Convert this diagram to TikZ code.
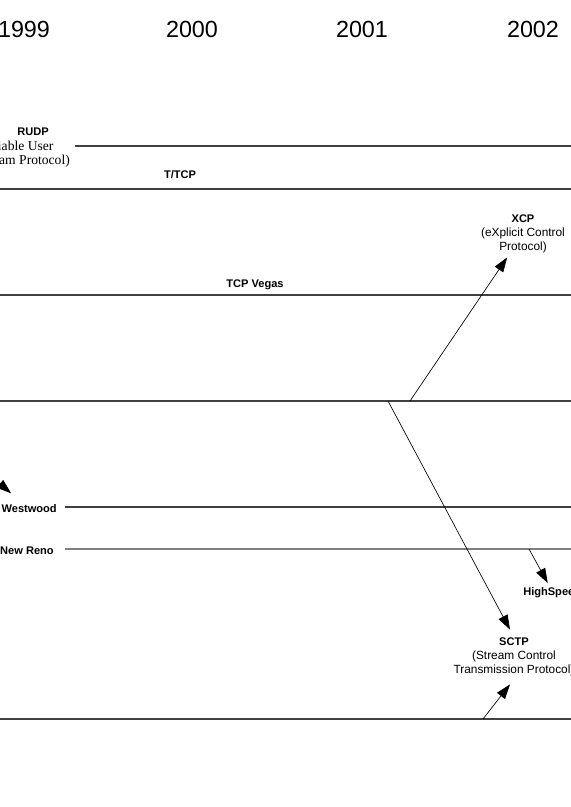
\documentclass[tikz,border=0pt]{standalone}
\usepackage{fontspec}
\setmainfont{Liberation Serif}
\setsansfont{Liberation Sans}
\usetikzlibrary{arrows.meta}

\begin{document}
\begin{tikzpicture}[
    x = 0.75pt, y = -0.75pt,
    every node/.style = {inner sep = 3pt, font = \sffamily\bfseries\fontsize{8.3}{10.5}\selectfont},
    year/.style = {font = \sffamily\fontsize{17.5}{20}\selectfont},
    proto/.style = {align = center},
    track/.style = {draw = black!75, line width = 1pt},
    evolve/.style = {draw = black, line width = 0.5pt, -{Triangle[length = 11pt, width = 7.5pt]}}
  ]
  \useasboundingbox (0,0) rectangle (571,807);
  \clip (0,0) rectangle (571,807);

  % years
  \foreach \yr/\xx in {1999/24, 2000/192, 2001/362, 2002/533}
    \node[year] (y\yr) at (\xx,29) {\yr};

  % protocols
  \node (RUDP) at (33,132) {RUDP};
  \node[proto, font = \rmfamily\fontsize{10.2}{10.8}\selectfont]
    (RUDPnote) at (16,154.5) {(Reliable User\hspace*{3pt}\\Datagram Protocol)};
  \node (TTCP) at (180,175) {T/TCP};
  \node (Vegas) at (255,284.5) {TCP Vegas};
  \node[proto] (XCP) at (523,234)
    {XCP\\{\mdseries\fontsize{8.9}{10.5}\selectfont (eXplicit Control}\\{\mdseries\fontsize{8.9}{10.5}\selectfont Protocol)}};
  \node[anchor = east] (Westwood) at (61,508.5) {Westwood};
  \node[anchor = east] (NewReno) at (58,550.5) {New Reno};
  \node[anchor = west] (HighSpeed) at (519,592.5) {HighSpeed};
  \node[proto] (SCTP) at (514,657)
    {SCTP\\{\mdseries\fontsize{8.9}{10.5}\selectfont (Stream Control}\\{\mdseries\fontsize{8.9}{10.5}\selectfont Transmission Protocol)}};

  % time lines
  \foreach \name/\yy in {ttcp/189, vegas/295, mid/401, bottom/719} {
    \coordinate (\name a) at (0,\yy);
    \coordinate (\name b) at (571,\yy);
    \path[track] (\name a) -- (\name b);
  }
  \coordinate (RUDPa) at (75,146);
  \coordinate (RUDPb) at (571,146);
  \path[track] (RUDPa) -- (RUDPb);
  \coordinate (wwb) at (571,507);
  \path[track] ([xshift = 3pt]Westwood.east |- wwb) -- (wwb);
  \coordinate (renob) at (571,549);
  \path[track, draw = black!50] ([xshift = 5pt]NewReno.east |- renob) -- (renob);

  % Labels
  \coordinate (xcpfrom) at (410,401);
  \coordinate (sctpfrom) at (388,401);
  \coordinate (hsfrom) at (529,549);
  \coordinate (sctpfrom2) at (483,719);
  \coordinate (wwfrom) at (-14,472);
  \path[evolve] (xcpfrom) -- (XCP);
  \path[evolve] (sctpfrom) -- ([xshift = -3pt, yshift = 3pt]SCTP.north);
  \path[evolve] (sctpfrom2) -- ([xshift = -3pt, yshift = -3pt]SCTP.south);
  \path[evolve] (hsfrom) -- (HighSpeed.115);
  \path[evolve, shorten > = 8pt] (wwfrom) -- (Westwood.140);

\end{tikzpicture}
\end{document}
